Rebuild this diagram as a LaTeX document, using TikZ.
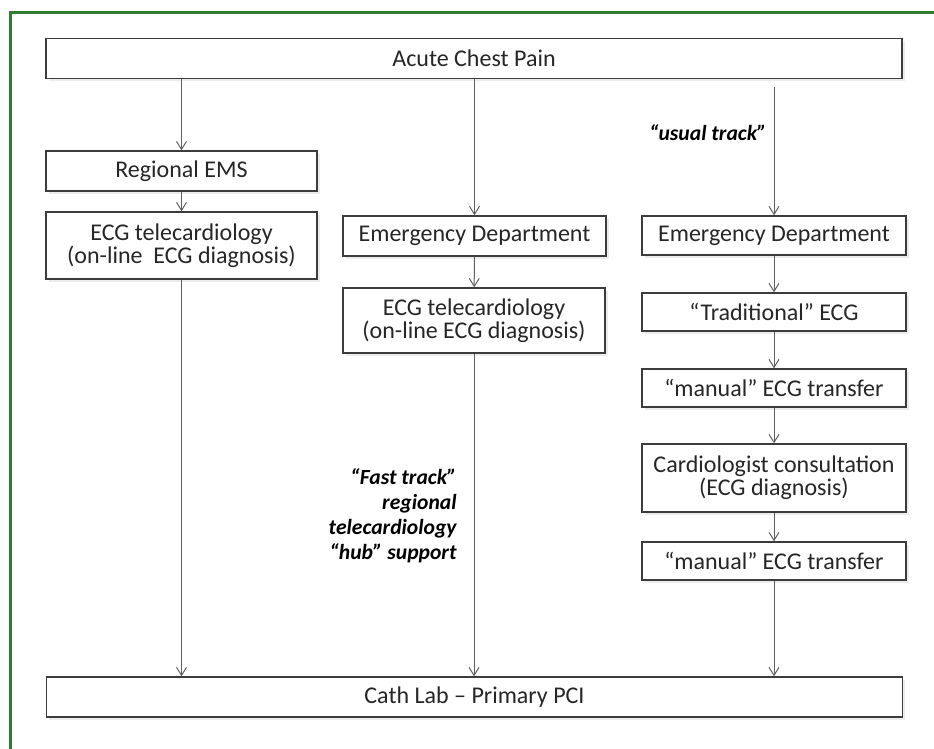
\documentclass[tikz,border=0pt]{standalone}
\usepackage{fontspec}
\setmainfont{Carlito}
\usetikzlibrary{arrows.meta,shadows}
\definecolor{framegreen}{RGB}{46,125,50}
\definecolor{boxline}{RGB}{60,60,60}
\definecolor{flowline}{RGB}{95,95,95}
\definecolor{txt}{RGB}{38,38,38}

\begin{document}
\begin{tikzpicture}[x=0.5pt,y=-0.5pt,
box/.style={draw=boxline, line width=0.7pt, fill=white, text=txt, align=center, inner sep=0pt,
  minimum width=132pt, minimum height=19.5pt, font=\fontsize{12}{11.5}\selectfont,
  drop shadow={opacity=0.15, shadow xshift=1.3pt, shadow yshift=-1.3pt}},
wide/.style={minimum width=428pt, minimum height=20pt},
flow/.style={draw=flowline, line width=0.5pt, -{Straight Barb[length=4pt,width=5pt]}},
track/.style={text=black, align=right, inner sep=0pt, font=\fontsize{10.8}{12.5}\selectfont\bfseries\itshape}
]
\useasboundingbox (0,0) rectangle (934,749);
\draw[framegreen, line width=1.5pt] (934,13) -- (10,13) -- (10,749);

% top and bottom
\node[box,wide] (acp) at (474,58.5) {Acute Chest Pain};
\node[box,wide] (cath) at (474.5,697) {Cath Lab – Primary PCI};

% EMS track
\node[box, minimum width=135.5pt, minimum height=20pt] (ems) at (181.5,171) {Regional EMS};
\node[box, minimum width=135.5pt, minimum height=33.5pt] (ecgL) at (181.5,245.5) {ECG telecardiology\\(on-line~ ECG diagnosis)};

% fast track
\node[box, minimum width=131.5pt, minimum height=20pt] (edM) at (474.5,236) {Emergency Department};
\node[box, minimum width=131pt, minimum height=32.5pt] (ecgM) at (474,320.5) {ECG telecardiology\\(on-line ECG diagnosis)};
\node[track, anchor=east] (fast) at (457,515.5) {“Fast track”\\regional\\telecardiology\\“hub” support};

% usual track
\coordinate (usualtop) at (774,87);
\node[track, anchor=east] (usual) at (767,133) {“usual track”};
\node[box] (edR) at (774,235.5) {Emergency Department};
\node[box, minimum height=19pt] (trad) at (774,312) {“Traditional” ECG};
\node[box, minimum height=19pt] (man1) at (774,388) {“manual” ECG transfer};
\node[box, minimum height=34pt] (card) at (774,478) {Cardiologist consultation\\(ECG diagnosis)};
\node[box, minimum height=19pt] (man2) at (774,561) {“manual” ECG transfer};

\draw[flow] (acp.south -| ems.north) -- (ems);
\draw[flow] (ems) -- (ecgL);
\draw[flow] (ecgL) -- (ecgL |- cath.north);
\draw[flow] (acp.south -| edM.north) -- (edM);
\draw[flow] (edM) -- (ecgM);
\draw[flow] (ecgM) -- (ecgM |- cath.north);
\draw[flow] (usualtop) -- (edR);
\foreach \a/\b in {edR/trad, trad/man1, man1/card, card/man2}
  \draw[flow] (\a) -- (\b);
\draw[flow] (man2) -- (man2 |- cath.north);
\end{tikzpicture}
\end{document}
